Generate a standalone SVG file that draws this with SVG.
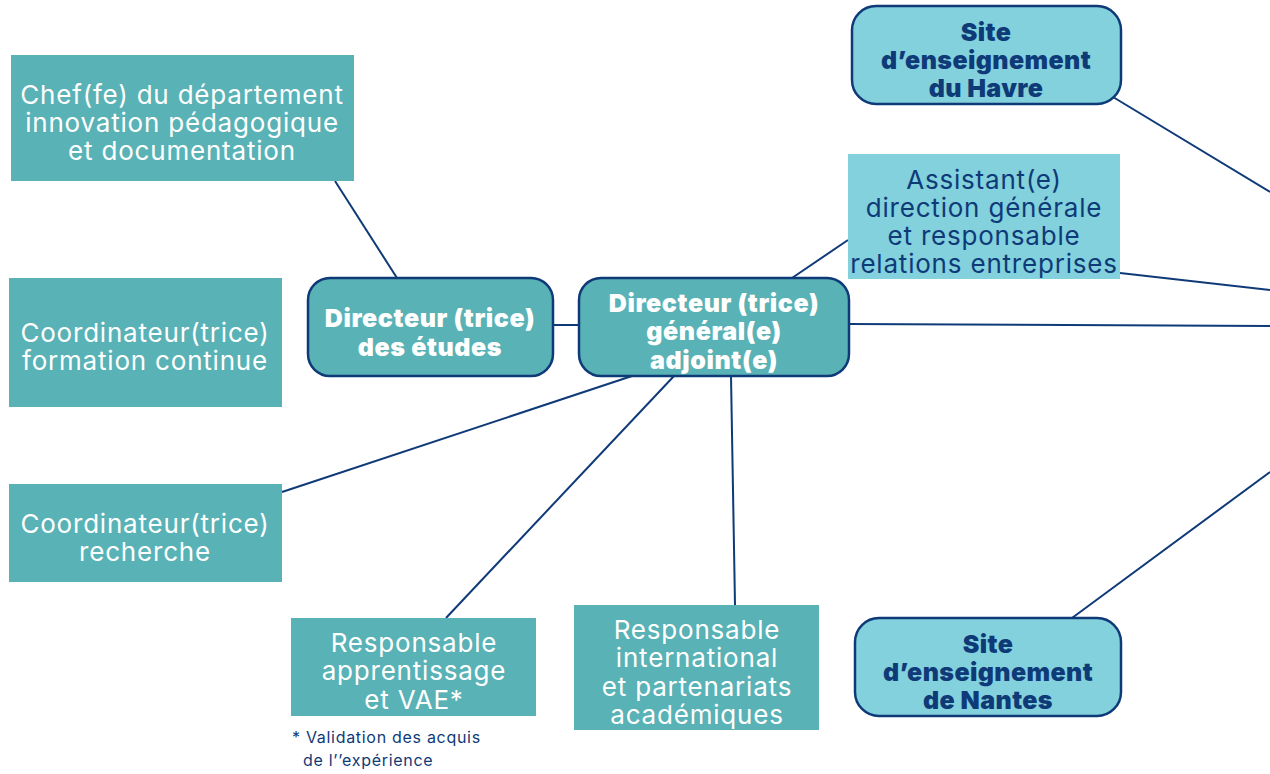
<svg xmlns="http://www.w3.org/2000/svg" width="1270" height="774" viewBox="0 0 1270 774">
<style>
.teal{fill:#59b2b5}
.light{fill:#82d1dc}
.rnd{stroke:#0f3a78;stroke-width:2.5}
.w{fill:#ffffff;font-family:Inter,"Liberation Sans",sans-serif;font-size:26px;letter-spacing:0.8px;text-anchor:middle}
.wb{fill:#ffffff;font-family:Inter,"Liberation Sans",sans-serif;font-size:25px;font-weight:900;letter-spacing:0.6px;text-anchor:middle}
.n{fill:#0f3a78;font-family:Inter,"Liberation Sans",sans-serif;font-size:26px;letter-spacing:0.8px;text-anchor:middle}
.nb{fill:#0f3a78;font-family:Inter,"Liberation Sans",sans-serif;font-size:25px;font-weight:900;letter-spacing:0.4px;text-anchor:middle}
.fn{fill:#0f3a78;font-family:Inter,"Liberation Sans",sans-serif;font-size:16px;letter-spacing:0.7px}
.ln{stroke:#0f3a78;stroke-width:2;fill:none}
</style>
<rect width="1270" height="774" fill="#ffffff"/>
<g id="connectors">
<line class="ln" x1="335" y1="181" x2="397" y2="278"/>
<line class="ln" x1="553" y1="325" x2="579" y2="325"/>
<line class="ln" x1="792" y1="278" x2="848" y2="240"/>
<line class="ln" x1="1120" y1="273" x2="1270" y2="290"/>
<line class="ln" x1="849" y1="324" x2="1270" y2="326"/>
<line class="ln" x1="1113" y1="97" x2="1270" y2="192"/>
<line class="ln" x1="1072" y1="618" x2="1270" y2="472"/>
<line class="ln" x1="632" y1="376" x2="282" y2="492"/>
<line class="ln" x1="674" y1="376" x2="446" y2="618"/>
<line class="ln" x1="731" y1="376" x2="735" y2="605"/>
</g>
<g id="chef">
<rect class="teal" x="11" y="55" width="343" height="126"/>
<text class="w" x="182" y="104">Chef(fe) du département</text>
<text class="w" x="182" y="132">innovation pédagogique</text>
<text class="w" x="182" y="160">et documentation</text>
</g>
<g id="coord-formation">
<rect class="teal" x="9" y="278" width="273" height="129"/>
<text class="w" x="145" y="342">Coordinateur(trice)</text>
<text class="w" x="145" y="370">formation continue</text>
</g>
<g id="coord-recherche">
<rect class="teal" x="9" y="484" width="273" height="98"/>
<text class="w" x="145" y="533">Coordinateur(trice)</text>
<text class="w" x="145" y="561">recherche</text>
</g>
<g id="dir-etudes">
<rect class="teal rnd" x="308" y="278" width="245" height="98" rx="22"/>
<text class="wb" x="430" y="327">Directeur (trice)</text>
<text class="wb" x="430" y="356">des études</text>
</g>
<g id="dir-general">
<rect class="teal rnd" x="579" y="278" width="270" height="98" rx="22"/>
<text class="wb" x="714" y="312">Directeur (trice)</text>
<text class="wb" x="714" y="340">général(e)</text>
<text class="wb" x="714" y="369">adjoint(e)</text>
</g>
<g id="site-havre">
<rect class="light rnd" x="852" y="6" width="269" height="98" rx="24"/>
<text class="nb" x="986" y="41">Site</text>
<text class="nb" x="986" y="69">d’enseignement</text>
<text class="nb" x="986" y="97">du Havre</text>
</g>
<g id="assistant">
<rect class="light" x="848" y="154" width="272" height="125"/>
<text class="n" x="984" y="189">Assistant(e)</text>
<text class="n" x="984" y="217">direction générale</text>
<text class="n" x="984" y="245">et responsable</text>
<text class="n" x="984" y="273">relations entreprises</text>
</g>
<g id="site-nantes">
<rect class="light rnd" x="855" y="618" width="266" height="98" rx="24"/>
<text class="nb" x="988" y="653">Site</text>
<text class="nb" x="988" y="681">d’enseignement</text>
<text class="nb" x="988" y="709">de Nantes</text>
</g>
<g id="resp-apprentissage">
<rect class="teal" x="291" y="618" width="245" height="98"/>
<text class="w" x="414" y="652">Responsable</text>
<text class="w" x="414" y="680">apprentissage</text>
<text class="w" x="414" y="709">et VAE*</text>
</g>
<g id="resp-international">
<rect class="teal" x="574" y="605" width="245" height="125"/>
<text class="w" x="697" y="639">Responsable</text>
<text class="w" x="697" y="667">international</text>
<text class="w" x="697" y="696">et partenariats</text>
<text class="w" x="697" y="724">académiques</text>
</g>
<g id="footnote">
<text class="fn" x="292" y="743">* Validation des acquis</text>
<text class="fn" x="303" y="766">de l’’expérience</text>
</g>
</svg>
